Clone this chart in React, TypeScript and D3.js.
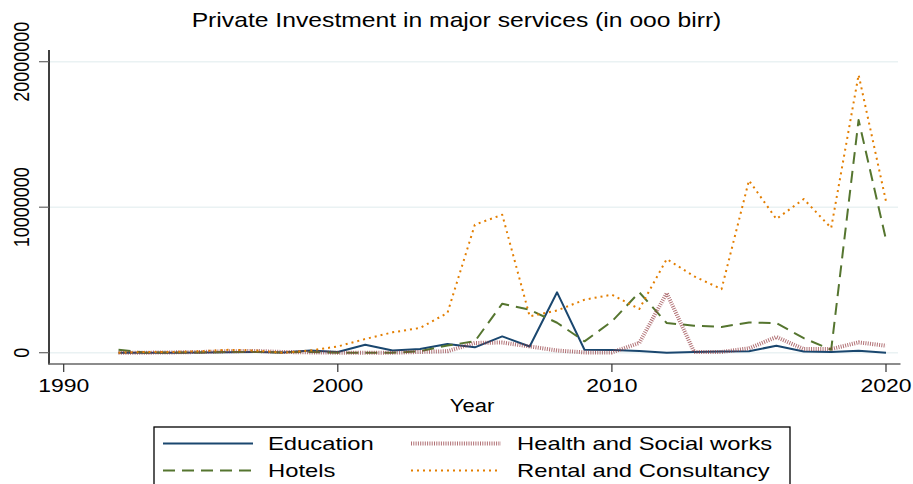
import React from "react";
import * as d3 from "d3";

const years = d3.range(1992, 2021);
const education = [0, 0, 0, 0.02, 0.03, 0.05, 0.02, 0.15, 0.05, 0.55, 0.15, 0.25, 0.6, 0.37, 1.12, 0.43, 4.15, 0.2, 0.18, 0.12, 0.0, 0.05, 0.08, 0.1, 0.48, 0.08, 0.05, 0.13, 0.0];
const hotels = [0.2, 0.0, 0.02, 0.02, 0.05, 0.05, 0.02, 0.05, 0.0, 0.0, 0.0, 0.1, 0.5, 0.78, 3.37, 2.95, 2.06, 0.78, 2.15, 4.15, 2.04, 1.86, 1.77, 2.08, 2.04, 1.0, 0.2, 16.0, 7.77];
const health = [0, 0, 0.02, 0.05, 0.1, 0.12, 0.05, 0.02, 0.0, 0.0, 0.0, 0.05, 0.1, 0.67, 0.7, 0.43, 0.15, 0.02, 0.02, 0.67, 4.1, 0.05, 0.05, 0.3, 1.08, 0.25, 0.25, 0.71, 0.48];
const rental = [0.0, 0.05, 0.05, 0.1, 0.2, 0.15, 0.0, 0.15, 0.43, 0.94, 1.4, 1.7, 2.73, 8.8, 9.48, 2.5, 2.9, 3.64, 3.99, 3.0, 6.44, 5.25, 4.37, 11.84, 9.19, 10.56, 8.57, 19.1, 10.4];
const xTicks = [1990, 2000, 2010, 2020];
const yTicks = [0, 10000000, 20000000];
const title = "Private Investment in major services (in ooo birr)";

const series = [
  { name: "Education", values: education, color: "#1a476f", width: 2, dash: "none", opacity: 1 },
  { name: "Hotels", values: hotels, color: "#55752f", width: 2, dash: "12 7", opacity: 1 },
  { name: "Health and Social works", values: health, color: "#90353b", width: 4, dash: "1 1.3", opacity: 0.7 },
  { name: "Rental and Consultancy", values: rental, color: "#e37e00", width: 2, dash: "2 4", opacity: 1 },
];

const FONT = "'Liberation Sans', Arial, Helvetica, sans-serif";
const SQ = 0.8;

export default function App() {
  const W = 913, H = 484;
  const x = d3.scaleLinear().domain([1990, 2020]).range([63.7, 886]);
  const y = d3.scaleLinear().domain([0, 20000000]).range([352.7, 61.7]);
  const line = d3.line<number>().x((_, i) => x(years[i])).y((v) => y(v * 1e6));
  const tr = (tx: number, ty: number, rot = 0) =>
    `translate(${tx},${ty}) scale(1,${SQ})` + (rot ? ` rotate(${rot})` : "");

  const legendItems = [
    { s: series[0], lx: 163, ly: 443.5, tx: 268 },
    { s: series[1], lx: 163, ly: 470.5, tx: 268 },
    { s: series[2], lx: 411, ly: 443.5, tx: 517 },
    { s: series[3], lx: 411, ly: 470.5, tx: 517 },
  ];

  return (
    <svg width={W} height={H} style={{ position: "absolute", left: 0, top: 0, background: "#fff" }} fontFamily={FONT}>
      <rect x={0} y={0} width={W} height={H} fill="#fff" />
      <text transform={tr(456.5, 27)} textAnchor="middle" fontSize={24.7} fill="#000">{title}</text>
      {yTicks.map((t) => (
        <line key={"g" + t} x1={50} x2={898} y1={y(t)} y2={y(t)} stroke="#eaf2f3" strokeWidth={1.5} />
      ))}
      {series.map((s) => (
        <path key={s.name} d={line(s.values) || ""} fill="none" stroke={s.color} strokeWidth={s.width}
          strokeDasharray={s.dash} strokeOpacity={s.opacity} strokeLinejoin="round" />
      ))}
      <line x1={49} x2={49} y1={50} y2={364.5} stroke="#000" strokeWidth={1.5} />
      <line x1={48.5} x2={900.5} y1={364} y2={364} stroke="#666" strokeWidth={1.5} />
      {yTicks.map((t) => (
        <g key={"y" + t}>
          <line x1={39} x2={49} y1={y(t)} y2={y(t)} stroke="#666" strokeWidth={1.2} />
          <text transform={tr(29, y(t), -90)} textAnchor="middle" fontSize={22.5} fill="#000">{String(t)}</text>
        </g>
      ))}
      {xTicks.map((t) => (
        <g key={"x" + t}>
          <line x1={x(t)} x2={x(t)} y1={364} y2={372} stroke="#333" strokeWidth={1.2} />
          <text transform={tr(x(t), 392)} textAnchor="middle" fontSize={23} fill="#000">{String(t)}</text>
        </g>
      ))}
      <text transform={tr(472, 412)} textAnchor="middle" fontSize={22} fill="#000">Year</text>
      <rect x={154} y={427} width={636} height={70} fill="#fff" stroke="#000" strokeWidth={1.3} />
      {legendItems.map(({ s, lx, ly, tx }) => (
        <g key={"l" + s.name}>
          <line x1={lx} x2={lx + 90} y1={ly} y2={ly} stroke={s.color} strokeWidth={s.width}
            strokeDasharray={s.dash} strokeOpacity={s.opacity} />
          <text transform={tr(tx, ly + 6)} fontSize={23.8} fill="#000">{s.name}</text>
        </g>
      ))}
    </svg>
  );
}
